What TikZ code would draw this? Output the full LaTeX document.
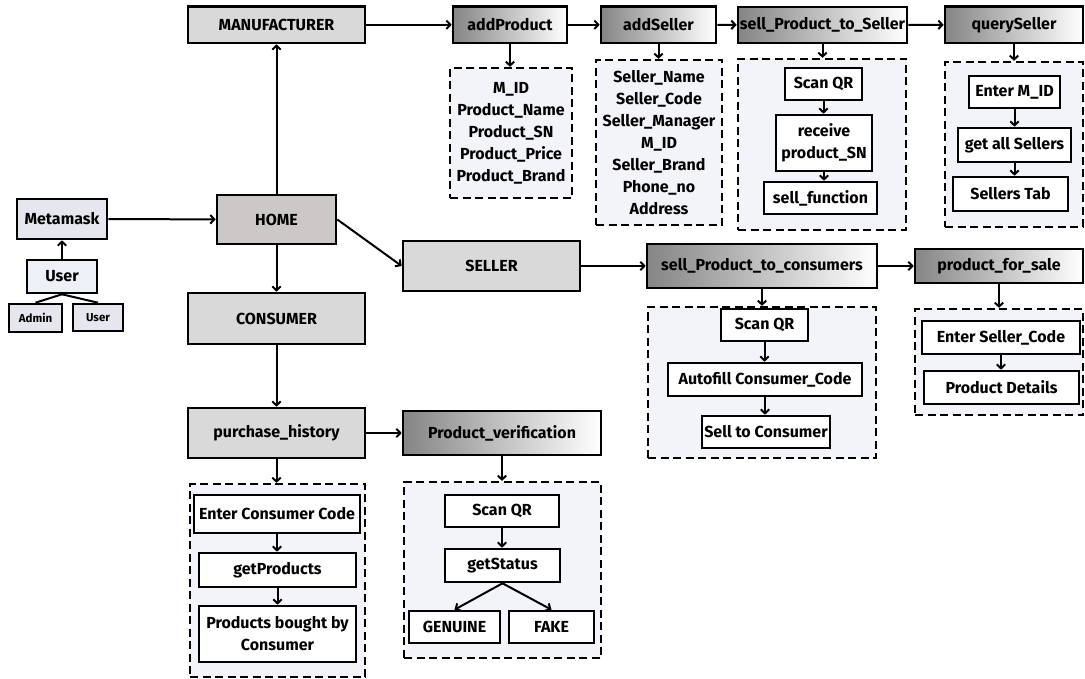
\documentclass[tikz,border=0pt]{standalone}
\usepackage{fontspec}
\setmainfont{Fira Sans}
\usetikzlibrary{arrows.meta}
\definecolor{cgray}{HTML}{D9D9D9}
\definecolor{chome}{HTML}{CCC8C8}
\definecolor{cmeta}{HTML}{E6E7EE}
\definecolor{cuser}{HTML}{EEF0F8}
\definecolor{cbg}{HTML}{F3F4FA}
\definecolor{cgl}{HTML}{858585}
\newcommand{\fnt}{\fontsize{16}{22}\selectfont\bfseries}
\newcommand{\sfnt}{\fontsize{11.5}{13}\selectfont\bfseries}
\tikzset{
  base/.style={draw=black, line width=2.6pt, font=\fnt, inner sep=1pt, align=center},
  graybox/.style={base, fill=cgray},
  homebox/.style={base, fill=chome},
  metabox/.style={base, fill=cmeta},
  userbox/.style={base, fill=cuser},
  gradbox/.style={base, left color=cgl, right color=white},
  wbox/.style={base, fill=white},
  dbox/.style={draw=black, line width=2.2pt, dash pattern=on 8pt off 4.5pt, fill=cbg, align=center, font=\fnt, inner sep=1pt},
  arr/.style={-{Straight Barb[length=4pt,width=8.5pt]}, line width=2pt},
  ln/.style={line width=2pt},
  sz/.style 2 args={minimum width=#1pt, minimum height=#2pt},
}
\begin{document}
\begin{tikzpicture}[x=1pt,y=-1pt]
\useasboundingbox[fill=white] (0,0) rectangle (1085,679);

% left column
\node[metabox, sz={90}{40}] (meta) at (62,219) {Metamask};
\node[userbox, sz={70}{33}] (user) at (62,276.5) {User};
\node[metabox, sz={53}{28}, font=\sfnt] (admin) at (35.5,318) {Admin};
\node[metabox, sz={50}{27}, font=\sfnt] (user2) at (98,317.5) {User};
\node[homebox, sz={119}{49}] (home) at (276.5,219.5) {HOME};
\node[graybox, sz={177}{36.5}] (mfr) at (276.5,24.75) {MANUFACTURER};
\node[graybox, sz={177}{51}] (cons) at (276.5,318.5) {CONSUMER};
\node[graybox, sz={177}{50}] (seller) at (491.5,266) {SELLER};

% top row
\node[gradbox, sz={114}{36.5}] (addp) at (510,24.75) {addProduct};
\node[gradbox, sz={115}{36.5}] (adds) at (658.5,24.75) {addSeller};
\node[gradbox, sz={169}{36}] (sps) at (822.5,25) {sell\_Product\_to\_Seller};
\node[gradbox, sz={138}{36.5}] (qs) at (1014,24.75) {querySeller};

\node[dbox, sz={122}{130}] (addpl) at (511,133) {M\_ID\\Product\_Name\\Product\_SN\\Product\_Price\\Product\_Brand};
\node[dbox, sz={126}{165}] (addsl) at (659,142.5) {Seller\_Name\\Seller\_Code\\Seller\_Manager\\M\_ID\\Seller\_Brand\\Phone\_no\\Address};
\node[dbox, sz={168}{171}] (spsc) at (822,144.5) {};
\node[dbox, sz={138}{165}] (qsc) at (1014,144.5) {};

\node[wbox, sz={77}{32}] (sq1) at (823.5,84) {Scan QR};
\node[wbox, sz={96}{56}] (rcv) at (824,143) {receive\\product\_SN};
\node[wbox, sz={113}{32}] (sf) at (820.5,198) {sell\_function};

\node[wbox, sz={91}{32}] (emid) at (1014.5,92) {Enter M\_ID};
\node[wbox, sz={113}{34}] (gas) at (1014.5,145) {get all Sellers};
\node[wbox, sz={115}{34}] (stab) at (1010.5,194) {Sellers Tab};

% seller row
\node[gradbox, sz={230}{44}] (sptc) at (762,266) {sell\_Product\_to\_consumers};
\node[gradbox, sz={168}{34}] (pfs) at (999,266) {product\_for\_sale};
\node[dbox, sz={228}{151}] (sptcc) at (762,382.5) {};
\node[dbox, sz={168}{106}] (pfsc) at (999,362) {};

\node[wbox, sz={87}{32}] (sq2) at (764.5,325) {Scan QR};
\node[wbox, sz={194}{33}] (auto) at (765,379.5) {Autofill Consumer\_Code};
\node[wbox, sz={128}{32}] (stc) at (766,432) {Sell to Consumer};

\node[wbox, sz={158}{33}] (esc) at (1001,337.5) {Enter Seller\_Code};
\node[wbox, sz={155}{33}] (pd) at (1001.5,387.5) {Product Details};

% consumer branch
\node[graybox, sz={177}{50}] (ph) at (276.5,433) {purchase\_history};
\node[gradbox, sz={198}{44}] (pv) at (502,433) {Product\_verification};
\node[dbox, sz={175}{193}] (phc) at (277.5,580.5) {};
\node[dbox, sz={197}{176}] (pvc) at (502.5,570) {};

\node[wbox, sz={166}{38}] (ecc) at (277,514) {Enter Consumer Code};
\node[wbox, sz={157}{34}] (gp) at (277.5,570) {getProducts};
\node[wbox, sz={157}{56}] (pbc) at (277.5,634) {Products bought by\\Consumer};

\node[wbox, sz={114}{32}] (sq3) at (502,511) {Scan QR};
\node[wbox, sz={115}{33}] (gs) at (502.5,565.5) {getStatus};
\node[wbox, sz={91}{32}] (gen) at (454.5,627) {GENUINE};
\node[wbox, sz={85}{32}] (fake) at (551.5,627) {FAKE};

% connectors
\draw[arr] (user) -- (meta);
\draw[ln] (user.south) -- (admin.north);
\draw[ln] (user.south) -- (user2.north);
\draw[arr] (meta) -- (home);
\draw[arr] (home) -- (mfr);
\draw[arr] (home) -- (cons);
\draw[arr] (home.east) -- (seller.west);

\draw[arr] (mfr) -- (addp);
\draw[arr] (addp) -- (adds);
\draw[arr] (adds) -- (sps);
\draw[arr] (sps) -- (qs);
\draw[arr] (addp.south) -- (addp.south |- addpl.north);
\draw[arr] (adds.south) -- (adds.south |- addsl.north);
\draw[arr] (sps.south) -- (sps.south |- spsc.north);
\draw[arr] (qs.south) -- (qs.south |- qsc.north);
\draw[arr] (sq1.south) -- (sq1.south |- rcv.north);
\draw[arr] (rcv.south) -- (rcv.south |- sf.north);
\draw[arr] (emid.south) -- (emid.south |- gas.north);
\draw[arr] (gas.south) -- (gas.south |- stab.north);

\draw[arr] (seller) -- (sptc);
\draw[arr] (sptc) -- (pfs);
\draw[arr] (sptc.south) -- (sptc.south |- sptcc.north);
\draw[arr] (pfs.south) -- (pfs.south |- pfsc.north);
\draw[arr] (sq2.south) -- (sq2.south |- auto.north);
\draw[arr] (auto.south) -- (auto.south |- stc.north);
\draw[arr] (esc.south) -- (esc.south |- pd.north);

\draw[arr] (cons) -- (ph);
\draw[arr] (ph) -- (pv);
\draw[arr] (ph.south) -- (ph.south |- phc.north);
\draw[arr] (pv.south) -- (pv.south |- pvc.north);
\draw[arr] (ecc.south) -- (ecc.south |- gp.north);
\draw[arr] (gp.south) -- (gp.south |- pbc.north);
\draw[arr] (sq3.south) -- (sq3.south |- gs.north);
\draw[arr] (gs.south) -- (gen.north);
\draw[arr] (gs.south) -- (fake.north);
\end{tikzpicture}
\end{document}
